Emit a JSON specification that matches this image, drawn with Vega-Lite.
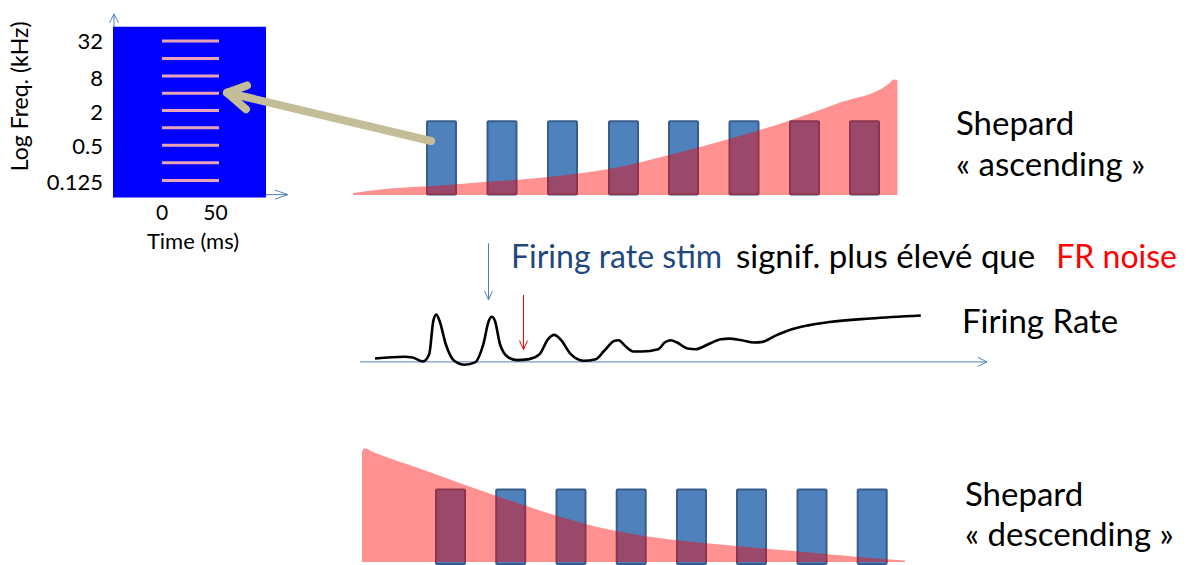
{
  "$schema": "https://vega.github.io/schema/vega-lite/v6.json",
  "width": 1188,
  "height": 565,
  "autosize": {"type": "fit", "contains": "padding"},
  "padding": 0,
  "background": "white",
  "config": {"view": {"stroke": null}},
  "datasets": {
    "blueArrows": [
      {"x": 114, "y": 199, "x2": 114, "y2": 14},
      {"x": 114, "y": 14, "x2": 109.5, "y2": 23},
      {"x": 114, "y": 14, "x2": 118.5, "y2": 23},
      {"x": 113, "y": 196, "x2": 288, "y2": 196},
      {"x": 288, "y": 196, "x2": 275, "y2": 191.5},
      {"x": 288, "y": 196, "x2": 275, "y2": 200.5},
      {"x": 360, "y": 364.5, "x2": 987, "y2": 364.5},
      {"x": 987, "y": 364.5, "x2": 978, "y2": 360},
      {"x": 987, "y": 364.5, "x2": 978, "y2": 369},
      {"x": 488.5, "y": 245, "x2": 488.5, "y2": 302},
      {"x": 488.5, "y": 302, "x2": 484.5, "y2": 293},
      {"x": 488.5, "y": 302, "x2": 492.5, "y2": 293}
    ],
    "redArrow": [
      {"x": 523.5, "y": 297, "x2": 523.5, "y2": 352},
      {"x": 523.5, "y": 352, "x2": 519.5, "y2": 343},
      {"x": 523.5, "y": 352, "x2": 527.5, "y2": 343}
    ],
    "square": [{"x": 113, "x2": 266, "y": 27, "y2": 199}],
    "tones": [
      {"x": 162, "x2": 219, "y": 41.3},
      {"x": 162, "x2": 219, "y": 59},
      {"x": 162, "x2": 219, "y": 76.5},
      {"x": 162, "x2": 219, "y": 94},
      {"x": 162, "x2": 219, "y": 111.3},
      {"x": 162, "x2": 219, "y": 128.7},
      {"x": 162, "x2": 219, "y": 146.3},
      {"x": 162, "x2": 219, "y": 164},
      {"x": 162, "x2": 219, "y": 181.7}
    ],
    "freqTicks": [
      {"x": 103, "y": 42.5, "label": "32"},
      {"x": 103, "y": 79.5, "label": "8"},
      {"x": 103, "y": 114, "label": "2"},
      {"x": 103, "y": 148, "label": "0.5"},
      {"x": 103, "y": 184.5, "label": "0.125"}
    ],
    "timeTicks": [
      {"x": 162, "y": 216, "label": "0"},
      {"x": 215.5, "y": 216, "label": "50"}
    ],
    "timeTitle": [{"x": 193, "y": 244, "label": "Time (ms)"}],
    "freqTitle": [{"x": 21, "y": 97, "label": "Log Freq. (kHz)"}],
    "barsUp": [
      {"x": 427, "x2": 456},
      {"x": 487.5, "x2": 516.5},
      {"x": 548, "x2": 577},
      {"x": 609, "x2": 638},
      {"x": 669, "x2": 698},
      {"x": 729.5, "x2": 758.5},
      {"x": 790, "x2": 819},
      {"x": 850, "x2": 879}
    ],
    "areaUp": [
      {"x": 353, "y": 194.5, "y2": 196.5},
      {"x": 360, "y": 193.3, "y2": 196.5},
      {"x": 451, "y": 186, "y2": 196.5},
      {"x": 562, "y": 176.7, "y2": 196.5},
      {"x": 610, "y": 170, "y2": 196.5},
      {"x": 673, "y": 155, "y2": 196.5},
      {"x": 729, "y": 140, "y2": 196.5},
      {"x": 784, "y": 123.3, "y2": 196.5},
      {"x": 840, "y": 103.3, "y2": 196.5},
      {"x": 888, "y": 85, "y2": 196.5},
      {"x": 894, "y": 80, "y2": 196.5},
      {"x": 897.5, "y": 81, "y2": 196.5}
    ],
    "tanArrow": [
      {"x": 431, "y": 142, "x2": 228, "y2": 93.5},
      {"x": 227, "y": 93.5, "x2": 247, "y2": 86},
      {"x": 227, "y": 93.5, "x2": 246, "y2": 110}
    ],
    "curve": [
      {"x": 375, "y": 361}, {"x": 404.2, "y": 359.3}, {"x": 412.5, "y": 360},
      {"x": 422.9, "y": 364}, {"x": 429.2, "y": 356.7}, {"x": 433.3, "y": 323.3},
      {"x": 436.3, "y": 316.7}, {"x": 439.6, "y": 323.3}, {"x": 445.8, "y": 346.7},
      {"x": 454.2, "y": 363.3}, {"x": 464.6, "y": 367.3}, {"x": 475, "y": 365},
      {"x": 483.3, "y": 346.7}, {"x": 488.75, "y": 323.3}, {"x": 491.7, "y": 319},
      {"x": 495, "y": 323.3}, {"x": 500, "y": 346.7}, {"x": 508.3, "y": 360},
      {"x": 516.7, "y": 362.7}, {"x": 529.2, "y": 361.7}, {"x": 539.6, "y": 356.7},
      {"x": 547.9, "y": 341.7}, {"x": 554.2, "y": 337.3}, {"x": 560.4, "y": 341.7},
      {"x": 570.8, "y": 356.7}, {"x": 583.3, "y": 363.3}, {"x": 595.8, "y": 361.7},
      {"x": 604.2, "y": 353.3}, {"x": 614.6, "y": 343.3}, {"x": 618.75, "y": 342.7},
      {"x": 625, "y": 348.3}, {"x": 633.3, "y": 354}, {"x": 641.7, "y": 354},
      {"x": 658.3, "y": 351.7}, {"x": 664.6, "y": 345}, {"x": 670.8, "y": 342.7},
      {"x": 677.1, "y": 345}, {"x": 687.5, "y": 351}, {"x": 695.8, "y": 351.7},
      {"x": 708.3, "y": 346.7}, {"x": 720.8, "y": 341.7}, {"x": 729.2, "y": 341},
      {"x": 741.7, "y": 342.7}, {"x": 754.2, "y": 345}, {"x": 762.5, "y": 344.3},
      {"x": 775, "y": 338.3}, {"x": 791.7, "y": 331.7}, {"x": 808.3, "y": 327.7},
      {"x": 829.2, "y": 324.3}, {"x": 870.8, "y": 320.7}, {"x": 920.8, "y": 317.7}
    ],
    "barsDown": [
      {"x": 436, "x2": 465},
      {"x": 496.2, "x2": 525.2},
      {"x": 556.5, "x2": 585.5},
      {"x": 616.7, "x2": 645.7},
      {"x": 677, "x2": 706},
      {"x": 737, "x2": 766},
      {"x": 797.5, "x2": 826.5},
      {"x": 857.7, "x2": 886.7}
    ],
    "areaDown": [
      {"x": 362, "y": 455, "y2": 566},
      {"x": 364.5, "y": 451.5, "y2": 566},
      {"x": 372.4, "y": 455, "y2": 566},
      {"x": 424, "y": 473.3, "y2": 566},
      {"x": 498, "y": 500, "y2": 566},
      {"x": 553.5, "y": 518.3, "y2": 566},
      {"x": 609, "y": 533.3, "y2": 566},
      {"x": 646, "y": 540, "y2": 566},
      {"x": 720, "y": 548.3, "y2": 566},
      {"x": 794, "y": 555, "y2": 566},
      {"x": 868, "y": 561.7, "y2": 566},
      {"x": 905, "y": 564.5, "y2": 566}
    ],
    "bigText": [
      {"x": 956, "y": 136, "label": "Shepard"},
      {"x": 956, "y": 177, "label": "« ascending »"},
      {"x": 962, "y": 335, "label": "Firing Rate"},
      {"x": 965, "y": 510, "label": "Shepard"},
      {"x": 965, "y": 550, "label": "« descending »"}
    ],
    "sentBlue": [{"x": 511, "y": 270, "label": "Firing rate stim"}],
    "sentBlack": [{"x": 736, "y": 270, "label": "signif. plus élevé que"}],
    "sentRed": [{"x": 1177, "y": 270, "label": "FR noise"}]
  },
  "layer": [
    {
      "data": {"name": "blueArrows"},
      "mark": {"type": "rule", "color": "#4F81BD", "strokeWidth": 1},
      "encoding": {
        "x": {"field": "x", "type": "quantitative", "scale": {"domain": [0, 1188], "nice": false, "zero": false}, "axis": null},
        "y": {"field": "y", "type": "quantitative", "scale": {"domain": [0, 565], "nice": false, "zero": false, "reverse": true}, "axis": null},
        "x2": {"field": "x2"},
        "y2": {"field": "y2"}
      }
    },
    {
      "data": {"name": "square"},
      "mark": {"type": "rect", "color": "#0000FF"},
      "encoding": {
        "x": {"field": "x", "type": "quantitative", "axis": null},
        "x2": {"field": "x2"},
        "y": {"field": "y", "type": "quantitative", "axis": null},
        "y2": {"field": "y2"}
      }
    },
    {
      "data": {"name": "tones"},
      "mark": {"type": "rule", "color": "#E8A3B8", "strokeWidth": 3},
      "encoding": {
        "x": {"field": "x", "type": "quantitative", "axis": null},
        "x2": {"field": "x2"},
        "y": {"field": "y", "type": "quantitative", "axis": null}
      }
    },
    {
      "data": {"name": "freqTicks"},
      "mark": {"type": "text", "align": "right", "baseline": "middle", "font": "Lato", "fontSize": 22, "color": "#000000"},
      "encoding": {
        "x": {"field": "x", "type": "quantitative", "axis": null},
        "y": {"field": "y", "type": "quantitative", "axis": null},
        "text": {"field": "label"}
      }
    },
    {
      "data": {"name": "timeTicks"},
      "mark": {"type": "text", "align": "center", "baseline": "middle", "font": "Lato", "fontSize": 21, "color": "#000000"},
      "encoding": {
        "x": {"field": "x", "type": "quantitative", "axis": null},
        "y": {"field": "y", "type": "quantitative", "axis": null},
        "text": {"field": "label"}
      }
    },
    {
      "data": {"name": "timeTitle"},
      "mark": {"type": "text", "align": "center", "baseline": "middle", "font": "Lato", "fontSize": 22, "color": "#000000"},
      "encoding": {
        "x": {"field": "x", "type": "quantitative", "axis": null},
        "y": {"field": "y", "type": "quantitative", "axis": null},
        "text": {"field": "label"}
      }
    },
    {
      "data": {"name": "freqTitle"},
      "mark": {"type": "text", "align": "center", "baseline": "middle", "angle": 270, "font": "Lato", "fontSize": 23, "color": "#000000"},
      "encoding": {
        "x": {"field": "x", "type": "quantitative", "axis": null},
        "y": {"field": "y", "type": "quantitative", "axis": null},
        "text": {"field": "label"}
      }
    },
    {
      "data": {"name": "barsUp"},
      "mark": {"type": "rect", "color": "#4F81BD", "stroke": "#385D8A", "strokeWidth": 2, "cornerRadius": 1},
      "encoding": {
        "x": {"field": "x", "type": "quantitative", "axis": null},
        "x2": {"field": "x2"},
        "y": {"datum": 122, "type": "quantitative", "axis": null},
        "y2": {"datum": 196}
      }
    },
    {
      "data": {"name": "areaUp"},
      "mark": {"type": "area", "color": "#FF0000", "opacity": 0.43, "interpolate": "monotone"},
      "encoding": {
        "x": {"field": "x", "type": "quantitative", "axis": null},
        "y": {"field": "y", "type": "quantitative", "axis": null},
        "y2": {"field": "y2"}
      }
    },
    {
      "data": {"name": "tanArrow"},
      "mark": {"type": "rule", "color": "#C4BD97", "strokeWidth": 8, "strokeCap": "round"},
      "encoding": {
        "x": {"field": "x", "type": "quantitative", "axis": null},
        "y": {"field": "y", "type": "quantitative", "axis": null},
        "x2": {"field": "x2"},
        "y2": {"field": "y2"}
      }
    },
    {
      "data": {"name": "redArrow"},
      "mark": {"type": "rule", "color": "#FF0000", "strokeWidth": 1},
      "encoding": {
        "x": {"field": "x", "type": "quantitative", "axis": null},
        "y": {"field": "y", "type": "quantitative", "axis": null},
        "x2": {"field": "x2"},
        "y2": {"field": "y2"}
      }
    },
    {
      "data": {"name": "curve"},
      "mark": {"type": "line", "color": "#000000", "strokeWidth": 2.6, "interpolate": "monotone"},
      "encoding": {
        "x": {"field": "x", "type": "quantitative", "axis": null},
        "y": {"field": "y", "type": "quantitative", "axis": null}
      }
    },
    {
      "data": {"name": "barsDown"},
      "mark": {"type": "rect", "color": "#4F81BD", "stroke": "#385D8A", "strokeWidth": 2, "cornerRadius": 1},
      "encoding": {
        "x": {"field": "x", "type": "quantitative", "axis": null},
        "x2": {"field": "x2"},
        "y": {"datum": 493, "type": "quantitative", "axis": null},
        "y2": {"datum": 568}
      }
    },
    {
      "data": {"name": "areaDown"},
      "mark": {"type": "area", "color": "#FF0000", "opacity": 0.43, "interpolate": "monotone"},
      "encoding": {
        "x": {"field": "x", "type": "quantitative", "axis": null},
        "y": {"field": "y", "type": "quantitative", "axis": null},
        "y2": {"field": "y2"}
      }
    },
    {
      "data": {"name": "bigText"},
      "mark": {"type": "text", "align": "left", "baseline": "alphabetic", "font": "Lato", "fontSize": 33, "color": "#000000"},
      "encoding": {
        "x": {"field": "x", "type": "quantitative", "axis": null},
        "y": {"field": "y", "type": "quantitative", "axis": null},
        "text": {"field": "label"}
      }
    },
    {
      "data": {"name": "sentBlue"},
      "mark": {"type": "text", "align": "left", "baseline": "alphabetic", "font": "Lato", "fontSize": 32, "color": "#1F497D"},
      "encoding": {
        "x": {"field": "x", "type": "quantitative", "axis": null},
        "y": {"field": "y", "type": "quantitative", "axis": null},
        "text": {"field": "label"}
      }
    },
    {
      "data": {"name": "sentBlack"},
      "mark": {"type": "text", "align": "left", "baseline": "alphabetic", "font": "Lato", "fontSize": 33, "color": "#000000"},
      "encoding": {
        "x": {"field": "x", "type": "quantitative", "axis": null},
        "y": {"field": "y", "type": "quantitative", "axis": null},
        "text": {"field": "label"}
      }
    },
    {
      "data": {"name": "sentRed"},
      "mark": {"type": "text", "align": "right", "baseline": "alphabetic", "font": "Lato", "fontSize": 32, "color": "#FF0000"},
      "encoding": {
        "x": {"field": "x", "type": "quantitative", "axis": null},
        "y": {"field": "y", "type": "quantitative", "axis": null},
        "text": {"field": "label"}
      }
    }
  ]
}
